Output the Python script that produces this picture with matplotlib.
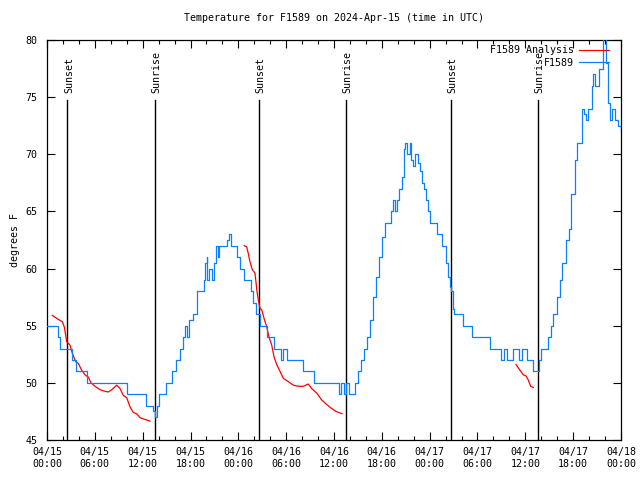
import numpy as np
import matplotlib
matplotlib.use("Agg")
import matplotlib.pyplot as plt

plt.rcParams['font.family'] = ['DejaVu Sans Mono']
FS = 7.2

# observed temperature, hours since 04/15 00:00 UTC (value holds until next time)
obs_hours = [0.0, 1.38, 1.63, 3.14, 3.64, 5.02, 10.04, 12.42, 13.30, 13.55, 13.80, 14.05,
             14.93, 15.68, 16.18, 16.68, 17.06, 17.31, 17.56, 17.81, 18.31, 18.82, 19.69,
             19.88, 20.01, 20.13, 20.32, 20.70, 21.01, 21.26, 21.45, 21.58, 22.58, 22.83,
             23.08, 23.83, 24.21, 24.71, 25.59, 25.84, 26.22, 26.72, 27.60, 28.48, 29.35,
             29.60, 30.11, 32.05, 33.43, 36.63, 36.88, 37.26, 37.51, 37.88, 38.63, 39.01,
             39.39, 39.76, 40.14, 40.52, 40.89, 41.27, 41.65, 42.02, 42.40, 43.15, 43.46,
             43.65, 43.84, 44.15, 44.53, 44.72, 44.84, 44.95, 45.10, 45.53, 45.72, 45.85,
             46.10, 46.54, 46.79, 47.04, 47.23, 47.54, 47.79, 48.04, 48.98, 49.55, 50.05,
             50.30, 50.55, 50.68, 50.93, 51.05, 52.12, 53.37, 55.63, 56.95, 57.33, 57.70,
             58.45, 59.21, 59.58, 60.15, 61.02, 61.72, 61.97, 62.85, 63.16, 63.47, 63.91,
             64.29, 64.66, 65.10, 65.42, 65.79, 66.17, 66.54, 67.05, 67.36, 67.67, 67.92,
             68.30, 68.55, 68.80, 69.30, 69.68, 70.06, 70.43, 70.68, 70.93, 71.31, 71.63,
             71.94, 72.0]
obs_temps = [55, 54, 53, 52, 51, 50, 49, 48, 47.5, 47, 48, 49,
             50, 51, 52, 53, 54, 55, 54, 55.5, 56, 58, 59,
             60.5, 61, 59, 60, 59, 60.5, 62, 61, 62, 62.5, 63,
             62, 61, 60, 59, 58, 57, 56, 55, 54, 53, 52,
             53, 52, 51, 50, 49, 50, 49, 50, 49, 50, 51,
             52, 53, 54, 55.5, 57.5, 59.3, 61, 62.8, 64, 65, 66,
             65, 66, 67, 68, 69, 70.5, 71, 70, 71, 69.5, 69,
             70, 69.2, 68.5, 67.5, 67, 66, 65, 64, 63, 62, 60.5,
             59.3, 58.4, 58, 56.5, 56, 55, 54, 53, 52, 53, 52,
             53, 52, 53, 52, 51, 52, 53, 54, 55, 56, 57.5,
             59, 60.5, 62.5, 63.5, 66.5, 69.5, 71, 74, 73.5, 73, 74,
             76, 77, 76, 77.5, 80.5, 78, 74.5, 73, 74, 73, 72.5,
             72, 72]

# analysis temperature, three pieces separated by gaps (nan)
ana_hours = [0.66, 1.42, 1.92, 2.17, 2.47, 2.89, 3.17, 3.60, 3.93, 4.35, 4.77, 5.18, 5.52,
             6.02, 6.65, 7.06, 7.69, 8.12, 8.74, 9.16, 9.57, 10.00, 10.41, 10.83, 11.25,
             11.67, 12.29, 12.92, np.nan,
             24.75, 25.05, 25.25, 25.46, 25.75, 26.09, 26.34, 26.51, 26.72, 26.93, 27.22,
             27.56, 27.85, 28.19, 28.47, 28.81, 29.23, 29.64, 30.27, 30.90, 31.52, 32.15,
             32.78, 33.20, 33.83, 34.46, 35.09, 35.62, 36.25, 37.00, np.nan,
             58.83, 59.33, 59.75, 60.09, 60.37, 60.67, 61.00]
ana_temps = [55.9, 55.55, 55.35, 54.9, 53.6, 53.3, 52.6, 51.85, 51.7, 51.1, 50.7, 50.5, 50.0,
             49.7, 49.4, 49.3, 49.2, 49.4, 49.8, 49.5, 48.9, 48.7, 47.9, 47.4, 47.3,
             46.95, 46.8, 46.65, np.nan,
             62.0, 61.9, 61.3, 60.6, 59.9, 59.6, 58.0, 57.25, 56.5, 56.4, 55.65,
             54.9, 54.0, 53.3, 52.3, 51.6, 51.0, 50.4, 50.1, 49.8, 49.7, 49.7,
             49.9, 49.5, 49.1, 48.5, 48.1, 47.8, 47.5, 47.3, np.nan,
             51.6, 51.1, 50.7, 50.6, 50.25, 49.7, 49.6]

event_hours = [2.55, 13.57, 26.62, 37.53, 50.68, 61.62]
event_names = ["Sunset", "Sunrise", "Sunset", "Sunrise", "Sunset", "Sunrise"]

xtick_hours = [0, 6, 12, 18, 24, 30, 36, 42, 48, 54, 60, 66, 72]
xtick_labels = ["04/15\n00:00", "04/15\n06:00", "04/15\n12:00", "04/15\n18:00",
                "04/16\n00:00", "04/16\n06:00", "04/16\n12:00", "04/16\n18:00",
                "04/17\n00:00", "04/17\n06:00", "04/17\n12:00", "04/17\n18:00",
                "04/18\n00:00"]

fig = plt.figure(figsize=(6.4, 4.8), dpi=100)
ax = fig.add_axes([47 / 640, 40 / 480, 574 / 640, 400 / 480])

ax.plot(ana_hours, ana_temps, color='#ff0000', lw=0.9, label='F1589 Analysis', zorder=3)
ax.plot(obs_hours, obs_temps, color='#0a80ff', lw=0.9, drawstyle='steps-post',
        label='F1589', zorder=3)

# sunrise / sunset markers
for h, name in zip(event_hours, event_names):
    ax.plot([h, h], [0, 0.85], color='black', lw=1.0,
            transform=ax.get_xaxis_transform(), zorder=2)
    ax.text(h + 0.2, 0.868, name, rotation=90, ha='center', va='bottom',
            fontsize=FS, transform=ax.get_xaxis_transform())

ax.set_xlim(0, 72)
ax.set_ylim(45, 80)
ax.set_xticks(xtick_hours)
ax.set_xticklabels(xtick_labels)
ax.set_xticks(np.arange(0, 73, 2), minor=True)
ax.set_yticks(np.arange(45, 81, 5))
ax.tick_params(which='major', direction='in', length=6, width=0.8,
               top=True, right=True, labelsize=FS, pad=5)
ax.tick_params(which='minor', direction='in', length=3, width=0.8,
               top=True, right=True)
ax.tick_params(axis='y', pad=7)
for s in ax.spines.values():
    s.set_linewidth(0.9)

ax.set_ylabel('degrees F', fontsize=FS, labelpad=4)
ax.set_title('Temperature for F1589 on 2024-Apr-15 (time in UTC)', fontsize=FS, pad=14)

ax.legend(loc='upper right', bbox_to_anchor=(0.981, 0.989), frameon=False,
          markerfirst=False, fontsize=FS, handlelength=3.0, handletextpad=0.5,
          borderaxespad=0.0, labelspacing=0.25, borderpad=0.1)

plt.savefig('out.png', dpi=100)
